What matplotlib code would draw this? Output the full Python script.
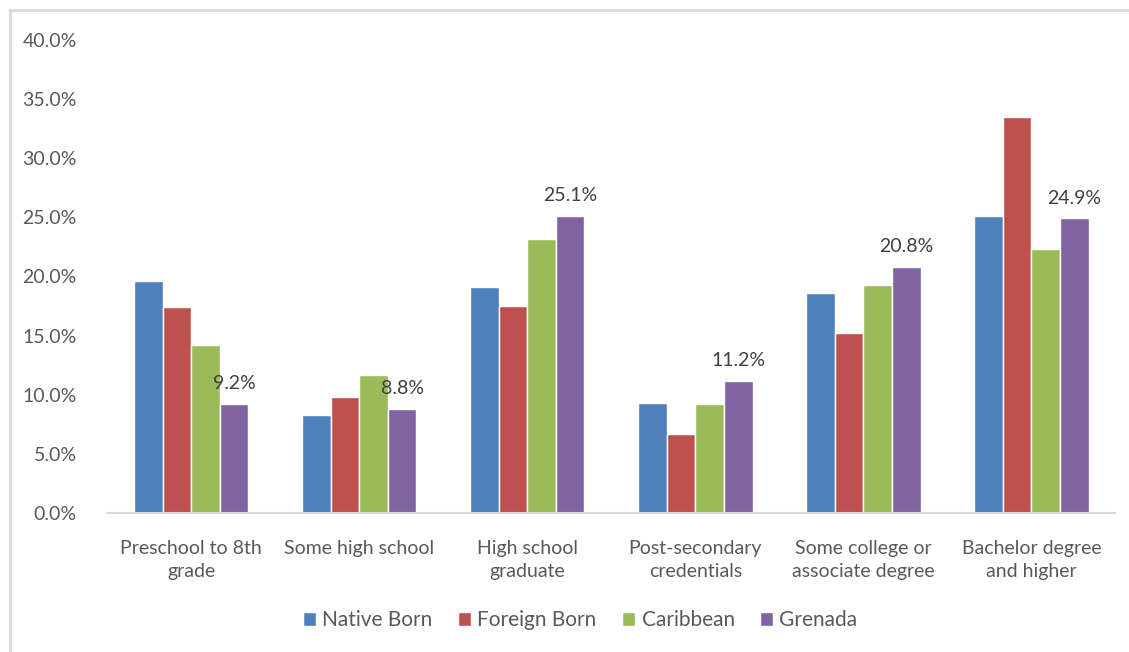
import numpy as np
from matplotlib import pyplot as plt
from matplotlib.lines import Line2D
from matplotlib.ticker import PercentFormatter

categories = ['Preschool to 8th\ngrade', 'Some high school', 'High school\ngraduate',
              'Post-secondary\ncredentials', 'Some college or\nassociate degree',
              'Bachelor degree\nand higher']
series_names = ['Native Born', 'Foreign Born', 'Caribbean', 'Grenada']
native_born = [19.6, 8.3, 19.1, 9.3, 18.6, 25.1]
foreign_born = [17.4, 9.8, 17.5, 6.7, 15.2, 33.5]
caribbean = [14.2, 11.7, 23.2, 9.2, 19.3, 22.3]
grenada = [9.2, 8.8, 25.1, 11.2, 20.8, 24.9]

colors = ['#4F81BD', '#C0504D', '#9BBB59', '#8064A2']

plt.rcParams['font.family'] = ['Lato', 'DejaVu Sans']

fig = plt.figure(figsize=(11.29, 6.52), dpi=100)
ax = fig.add_axes([0.095, 0.213, 0.893, 0.726])

x = np.arange(len(categories))
w = 0.17
all_series = [native_born, foreign_born, caribbean, grenada]
for k, (vals, name, c) in enumerate(zip(all_series, series_names, colors)):
    bars = ax.bar(x + (k - 1.5) * w, vals, w, color=c, edgecolor='white',
                  linewidth=1, label=name)
    if name == 'Grenada':
        for b, v in zip(bars, vals):
            ax.text(b.get_x() + b.get_width() / 2, v + 1.0, f'{v:.1f}%',
                    ha='center', va='bottom', fontsize=14, color='#404040')

ax.set_xlim(-0.5, len(categories) - 0.5)
ax.set_ylim(0, 40)
ax.set_yticks(np.arange(0, 41, 5))
ax.yaxis.set_major_formatter(PercentFormatter(decimals=1))
ax.set_xticks(x)
ax.set_xticklabels(categories, fontsize=14, color='#595959', linespacing=1.45)
ax.tick_params(axis='y', labelsize=14, labelcolor='#595959', length=0, pad=22)
ax.tick_params(axis='x', length=0, pad=19)
for s in ['top', 'right', 'left']:
    ax.spines[s].set_visible(False)
ax.spines['bottom'].set_color('#D9D9D9')
ax.spines['bottom'].set_linewidth(1.5)

ax.legend(loc='center', bbox_to_anchor=(0.469, -0.226), ncol=4, frameon=False,
          fontsize=15, handlelength=0.65, handleheight=0.65, handletextpad=0.3,
          columnspacing=1.2, labelcolor='#595959')

# thin frame along the top and left edges
fig.add_artist(Line2D([10 / 1129, 10 / 1129], [0, 1 - 10 / 652], color='#D9D9D9', lw=2))
fig.add_artist(Line2D([10 / 1129, 1], [1 - 10 / 652, 1 - 10 / 652], color='#D9D9D9', lw=2))

plt.savefig('out.png', dpi=100)
